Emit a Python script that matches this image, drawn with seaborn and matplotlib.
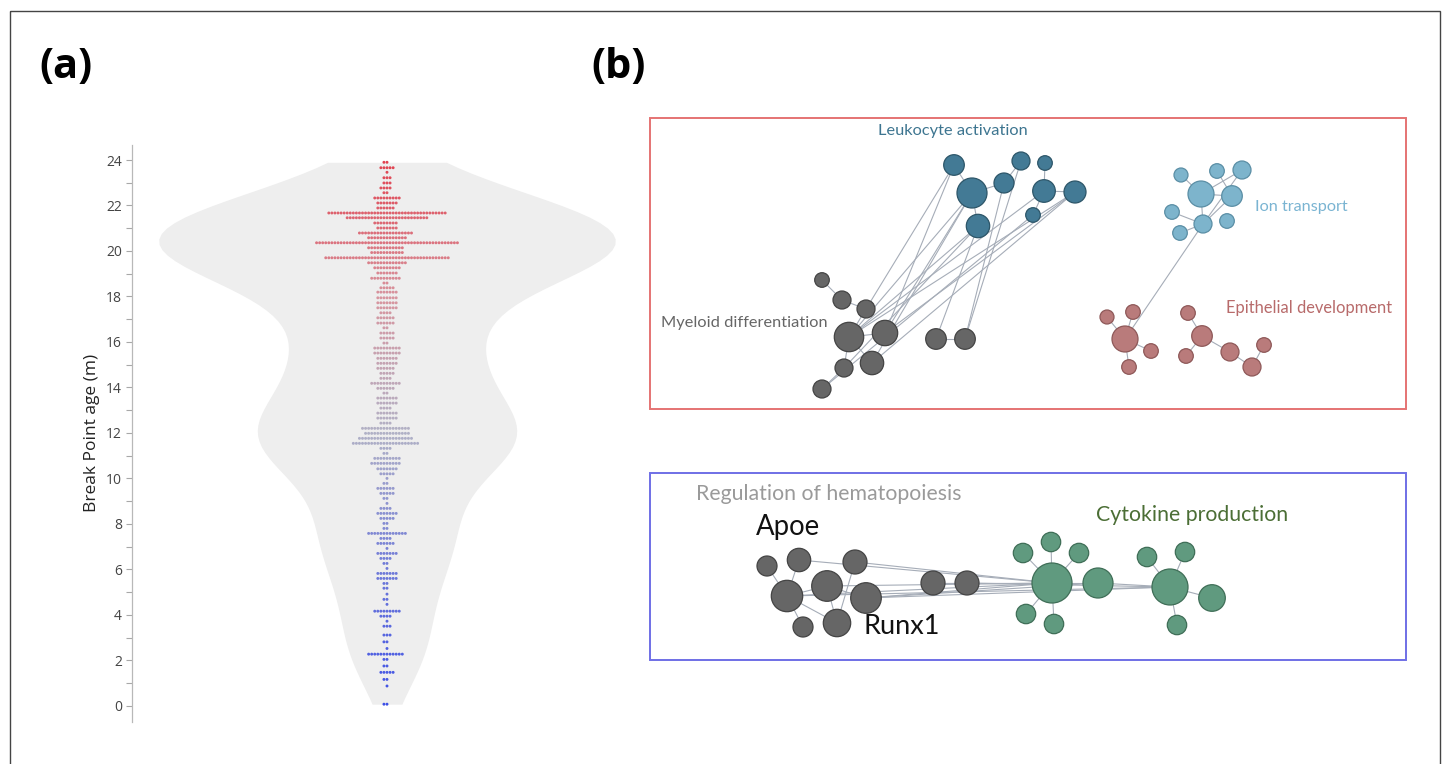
import numpy as np
import pandas as pd
import matplotlib
matplotlib.use("Agg")
import matplotlib.pyplot as plt
from matplotlib.colors import LinearSegmentedColormap
from matplotlib.patches import Rectangle
from matplotlib.collections import LineCollection
from matplotlib.ticker import MultipleLocator
import seaborn as sns

# ---------------- panel (a): break point ages (months), grouped in weekly rows ----------------
row_age = [23.90, 23.66, 23.46, 23.22, 22.99, 22.77, 22.56, 22.33, 22.11, 21.89,
           21.67, 21.46, 21.23, 21.01, 20.79, 20.58, 20.36, 20.14, 19.93, 19.70,
           19.48, 19.26, 19.03, 18.80, 18.59, 18.38, 18.19, 17.94, 17.72, 17.50,
           17.28, 17.06, 16.83, 16.62, 16.39, 16.17, 15.95, 15.73, 15.51, 15.28,
           15.06, 14.84, 14.62, 14.40, 14.18, 13.96, 13.75, 13.53, 13.31, 13.09,
           12.87, 12.65, 12.43, 12.20, 11.98, 11.76, 11.54, 11.32, 11.10, 10.88,
           10.66, 10.42, 10.20, 10.00, 9.78, 9.56, 9.34, 9.12, 8.90, 8.68,
           8.46, 8.24, 8.02, 7.80, 7.58, 7.36, 7.14, 6.92, 6.70, 6.48,
           6.26, 6.04, 5.82, 5.60, 5.38, 5.17, 4.91, 4.68, 4.46, 4.16,
           3.94, 3.72, 3.50, 3.11, 2.81, 2.52, 2.27, 2.04, 1.75, 1.47,
           1.16, 0.87, 0.07]
row_count = [2, 5, 1, 3, 3, 4, 2, 9, 7, 6,
             39, 27, 8, 7, 18, 13, 47, 12, 11, 41,
             13, 9, 7, 10, 2, 5, 7, 7, 7, 7,
             4, 6, 6, 2, 5, 5, 2, 9, 9, 7,
             7, 6, 5, 4, 10, 6, 2, 7, 7, 4,
             7, 7, 4, 16, 15, 18, 22, 4, 2, 9,
             10, 7, 5, 1, 2, 6, 5, 2, 1, 4,
             7, 5, 2, 2, 13, 4, 6, 1, 7, 4,
             2, 1, 7, 7, 2, 2, 1, 2, 1, 9,
             4, 1, 3, 3, 2, 1, 12, 2, 2, 5,
             2, 1, 2]
y_ticks = [0, 2, 4, 6, 8, 10, 12, 14, 16, 18, 20, 22, 24]
y_label = "Break Point age (m)"

# ---------------- panel (b): enrichment network ----------------
node_id = ["L1", "L2", "L3", "L4", "L5", "L6", "L7", "L8", "L9",
           "M1", "M2", "M3", "M4", "M5", "M6", "M7", "M8", "M9", "M10",
           "I1", "I2", "I3", "I4", "I5", "I6", "I7", "I8", "I9",
           "E1", "E2", "E3", "E4", "E5", "E6", "E7", "E8", "E9", "E10", "E11",
           "H1", "H2", "H3", "H4", "H5", "H6", "H7", "H8", "H9", "H10",
           "C1", "C2", "C3", "C4", "C5", "C6", "C7", "C8", "C9", "C10", "C11", "C12"]
node_x = [954, 972, 1004, 1021, 1045, 1044, 1075, 1033, 978,
          822, 842, 866, 849, 885, 872, 844, 822, 936, 965,
          1181, 1217, 1242, 1201, 1232, 1172, 1203, 1227, 1180,
          1107, 1133, 1125, 1151, 1129, 1188, 1202, 1186, 1230, 1264, 1252,
          767, 799, 855, 787, 827, 866, 803, 837, 933, 967,
          1023, 1051, 1079, 1052, 1098, 1026, 1054, 1147, 1185, 1170, 1212, 1177]
node_y = [165, 193, 183, 161, 163, 191, 192, 215, 226,
          280, 300, 309, 337, 333, 363, 368, 389, 339, 339,
          175, 171, 170, 194, 196, 212, 224, 221, 233,
          317, 312, 339, 351, 367, 313, 336, 356, 352, 345, 367,
          566, 560, 562, 596, 586, 598, 627, 623, 583, 583,
          553, 542, 553, 583, 583, 614, 624, 557, 552, 587, 598, 625]
node_r = [10.3, 15, 10, 9, 7.3, 11.3, 11, 7.3, 11.7,
          7.3, 9, 9, 14.7, 12.7, 11.7, 9, 9, 10.3, 10.3,
          7, 7.3, 9, 13, 10.3, 7.3, 9, 7.3, 7.3,
          7, 7.3, 13, 7.3, 7.3, 7.3, 10.3, 7.3, 9, 7.3, 9,
          10, 11.7, 12, 15.7, 15.3, 15.3, 10, 13.7, 12, 12,
          9.7, 9.7, 9.7, 20, 15, 9.7, 9.7, 9.7, 9.7, 18, 13.3, 9.7]
node_group = (["leukocyte"] * 9 + ["myeloid"] * 10 + ["ion"] * 9 +
              ["epithelial"] * 11 + ["hematopoiesis"] * 10 + ["cytokine"] * 12)

edges = [("L1", "L2"), ("L2", "L3"), ("L3", "L4"), ("L2", "L9"), ("L5", "L6"),
         ("L6", "L7"), ("L6", "L8"),
         ("M1", "M2"), ("M2", "M3"), ("M3", "M4"), ("M4", "M5"), ("M4", "M6"),
         ("M7", "M8"), ("M4", "M7"), ("M9", "M10"),
         ("L1", "M3"), ("L1", "M5"), ("L2", "M4"), ("L2", "M6"), ("L2", "M5"),
         ("L9", "M4"), ("L9", "M9"), ("L9", "M7"), ("L4", "M10"), ("L6", "M4"),
         ("L7", "M4"), ("L7", "M6"), ("L7", "M5"), ("L8", "M8"), ("L3", "M10"),
         ("I1", "I4"), ("I2", "I5"), ("I3", "I4"), ("I3", "I7"), ("I4", "I5"),
         ("I4", "I7"), ("I5", "I7"), ("I6", "I7"), ("I9", "I7"), ("I7", "E3"),
         ("E1", "E3"), ("E2", "E3"), ("E3", "E4"), ("E3", "E5"), ("E6", "E7"),
         ("E7", "E8"), ("E7", "E9"), ("E9", "E11"), ("E10", "E11"),
         ("H1", "H4"), ("H2", "H4"), ("H4", "H5"), ("H4", "H7"), ("H5", "H8"),
         ("H4", "H8"), ("H3", "H8"), ("H5", "H6"), ("H9", "H10"),
         ("H2", "C4"), ("H3", "C4"), ("H5", "C4"), ("H6", "C4"), ("H6", "C10"),
         ("H4", "C10"), ("H9", "C4"), ("H10", "C4"), ("H10", "C10"), ("H4", "C4"),
         ("H6", "C5"),
         ("C4", "C1"), ("C4", "C2"), ("C4", "C3"), ("C4", "C5"), ("C4", "C6"),
         ("C4", "C7"), ("C10", "C8"), ("C10", "C9"), ("C10", "C11"), ("C10", "C12"),
         ("C5", "C10")]

group_fill = {"leukocyte": "#437a95", "myeloid": "#666666", "ion": "#7db4cc",
              "epithelial": "#b97b7b", "hematopoiesis": "#666666", "cytokine": "#609a7f"}
group_edge = {"leukocyte": "#2d5669", "myeloid": "#444444", "ion": "#5a8ea5",
              "epithelial": "#8e5858", "hematopoiesis": "#444444", "cytokine": "#3f6e57"}

cluster_labels = ["Leukocyte activation", "Ion transport", "Epithelial development",
                  "Myeloid differentiation", "Regulation of hematopoiesis",
                  "Cytokine production", "Apoe", "Runx1"]
label_x = [953, 1255, 1226, 661, 696, 1096, 756, 863]
label_y = [131, 207, 308, 323, 494, 515, 527, 626]
label_ha = ["center", "left", "left", "left", "left", "left", "left", "left"]
label_color = ["#3d7590", "#7ab4d2", "#b86b6b", "#666666", "#9a9a9a", "#4b6e35",
               "#111111", "#111111"]
label_size = [11.8, 11.7, 11.9, 11.8, 15.3, 15.3, 19.8, 19.5]

# ---------------- figure ----------------
plt.rcParams["font.family"] = ["Open Sans", "DejaVu Sans"]
W, H, DPI = 1448, 764, 100
fig = plt.figure(figsize=(W / DPI, H / DPI), dpi=DPI)
fig.patch.set_facecolor("white")

# full-figure canvas in pixel units for the network panel and frame
ax_b = fig.add_axes([0, 0, 1, 1])
ax_b.set_xlim(0, W)
ax_b.set_ylim(H, 0)
ax_b.axis("off")

# outer frame
ax_b.add_patch(Rectangle((9.5, 10.5), 1430.5, 770, fill=False, lw=1.0,
                         edgecolor="#444444", clip_on=False))
ax_b.text(39, 68, "(a)", fontsize=30, fontweight="bold", family="Open Sans",
          ha="left", va="center")
ax_b.text(591, 68, "(b)", fontsize=30, fontweight="bold", family="Open Sans",
          ha="left", va="center")

# cluster boxes
ax_b.add_patch(Rectangle((650, 117.5), 755.5, 291, fill=False, lw=1.4,
                         edgecolor="#e57373"))
ax_b.add_patch(Rectangle((650, 472.5), 755.5, 187.5, fill=False, lw=1.4,
                         edgecolor="#6f6fe6"))

pos = {n: (x, y) for n, x, y in zip(node_id, node_x, node_y)}
segs = [[pos[a], pos[b]] for a, b in edges]
ax_b.add_collection(LineCollection(segs, colors="#a6adb8", linewidths=0.8, zorder=2))

r = np.asarray(node_r)
ax_b.scatter(node_x, node_y, s=(2 * r * 72 / DPI) ** 2,
             c=[group_fill[g] for g in node_group],
             edgecolors=[group_edge[g] for g in node_group],
             linewidths=0.9, zorder=3)

for txt, x, y, ha, col, fs in zip(cluster_labels, label_x, label_y, label_ha,
                                   label_color, label_size):
    ax_b.text(x, y, txt, ha=ha, va="center", color=col, fontsize=fs,
              family=["Lato", "DejaVu Sans"], zorder=4)

# ---------------- panel (a): violin + dot swarm ----------------
ages = np.repeat(np.asarray(row_age), np.asarray(row_count))
df = pd.DataFrame({"group": "all", "age": ages})

left_px, right_px, top_px, bottom_px = 131.7, 642.3, 145.0, 721.7
ax_a = fig.add_axes([left_px / W, (H - bottom_px) / H,
                     (right_px - left_px) / W, (bottom_px - top_px) / H])
ax_a.patch.set_alpha(0)

cmap = LinearSegmentedColormap.from_list(
    "age", [(0.0, "#3d50e6"), (0.25, "#6f7ad8"), (0.5, "#b1b1c6"),
            (0.75, "#d7959f"), (1.0, "#e0414f")])

sns.violinplot(data=df, x="group", y="age", color="#eeeeee", saturation=1,
               linewidth=0, inner=None, cut=0, bw_adjust=1.0, width=0.8, ax=ax_a)
sns.swarmplot(data=df, x="group", y="age", hue="age", palette=cmap,
              hue_norm=(0, 24), size=2.1, linewidth=0, legend=False, ax=ax_a)

ax_a.set_xlim(-0.4475, 0.4475)
ax_a.set_ylim(-0.70, 24.66)
ax_a.set_xlabel("")
ax_a.set_xticks([])
ax_a.set_yticks(y_ticks)
ax_a.yaxis.set_minor_locator(MultipleLocator(1))
for side in ("top", "right", "bottom"):
    ax_a.spines[side].set_visible(False)
ax_a.spines["left"].set_color("#b8b8b8")
ax_a.spines["left"].set_linewidth(0.9)
ax_a.tick_params(axis="y", which="major", length=4, width=0.8, color="#a8a8a8",
                 labelsize=10, labelcolor="#444444", pad=3)
ax_a.tick_params(axis="y", which="minor", length=4, width=0.8, color="#a8a8a8")
ax_a.set_ylabel(y_label, fontsize=12.5, color="#222222", labelpad=4)

fig.savefig("out.png", dpi=DPI)
